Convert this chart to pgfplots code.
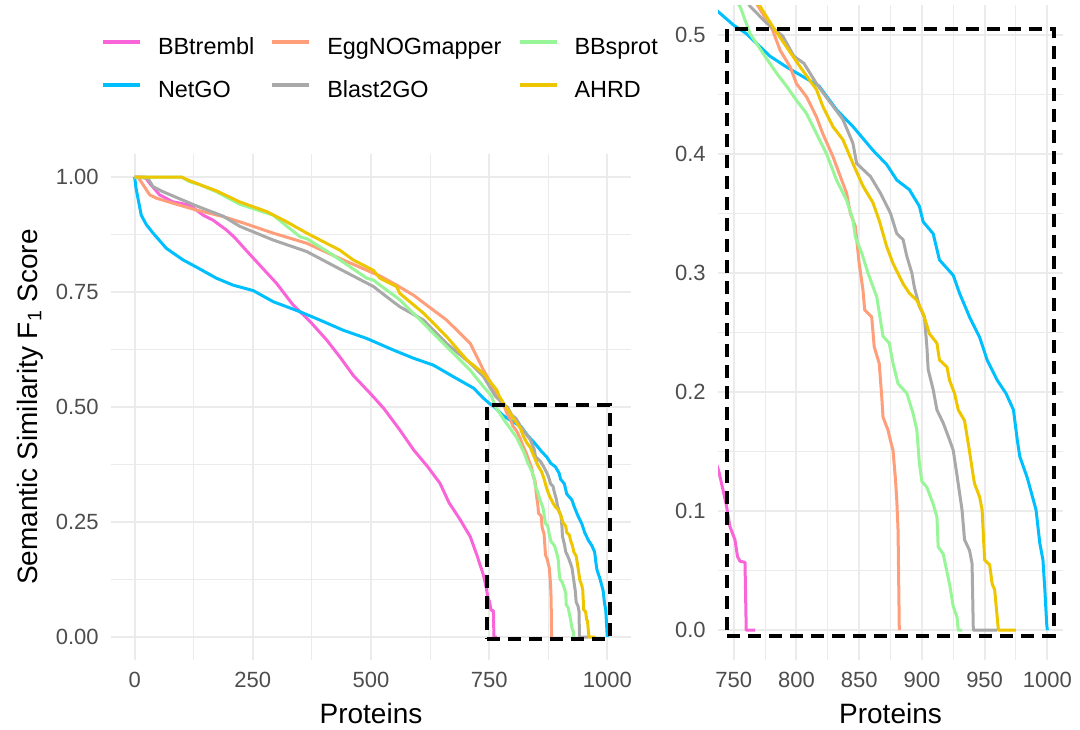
\documentclass[border=0pt]{standalone}
\usepackage{fontspec}
\setmainfont{Liberation Sans}
\usepackage{pgfplots}
\usepackage{pgfplotstable}
\pgfplotsset{compat=1.18}

\definecolor{cPink}{HTML}{F964D9}
\definecolor{cOrange}{HTML}{FF9E7A}
\definecolor{cGreen}{HTML}{98F598}
\definecolor{cBlue}{HTML}{00BFFF}
\definecolor{cGrey}{HTML}{A9A9A9}
\definecolor{cGold}{HTML}{EEC600}
\definecolor{tickgray}{HTML}{4D4D4D}
\definecolor{gridgray}{HTML}{EBEBEB}

\pgfplotstableread{
x y
0 1.000
22 1.000
32 0.986
53 0.961
81 0.946
116 0.939
145 0.917
166 0.906
194 0.885
212 0.868
232 0.845
265 0.808
300 0.769
335 0.722
371 0.686
406 0.646
434 0.609
463 0.568
498 0.530
527 0.497
561 0.450
590 0.407
620 0.370
646 0.334
665 0.292
688 0.256
710 0.218
724 0.178
738 0.134
744 0.106
747 0.087
751 0.076
753 0.062
755 0.058
759 0.057
760 0.000
767 0.000
}\tPink

\pgfplotstableread{
x y
0 1.000
3 0.975
7 0.954
14 0.917
25 0.896
39 0.878
67 0.845
102 0.820
138 0.800
173 0.780
208 0.765
251 0.753
293 0.729
350 0.707
392 0.689
441 0.667
491 0.649
547 0.624
590 0.606
632 0.591
674 0.566
717 0.541
737 0.520
750 0.508
760 0.501
771 0.490
779 0.482
792 0.473
805 0.465
818 0.457
832 0.437
845 0.423
861 0.403
872 0.391
880 0.378
890 0.370
898 0.356
901 0.343
909 0.333
914 0.311
925 0.298
930 0.283
938 0.263
946 0.246
952 0.227
960 0.210
967 0.199
973 0.185
976 0.160
978 0.146
984 0.128
991 0.101
994 0.073
996.5 0.059
998 0.034
999.5 0.005
1000 0.000
}\tBlue

\pgfplotstableread{
x y
0 1.000
7 1.000
18 0.983
32 0.961
46 0.954
81 0.943
131 0.928
187 0.914
230 0.900
293 0.878
364 0.856
434 0.823
505 0.791
519 0.785
554 0.765
590 0.743
660 0.689
710 0.638
738 0.580
766 0.530
781 0.504
787 0.487
795 0.473
800 0.459
808 0.448
816 0.431
821 0.417
829 0.398
835 0.381
840 0.367
843 0.350
847 0.339
850 0.308
853 0.286
854.4 0.269
860 0.263
862 0.238
866 0.224
868 0.196
869 0.179
873 0.168
875 0.159
877 0.151
879 0.126
880 0.109
881 0.084
882 0.000
}\tOrange

\pgfplotstableread{
x y
0 1.000
28 0.997
39 0.979
60 0.968
131 0.937
187 0.915
222 0.893
293 0.863
364 0.838
434 0.800
505 0.762
530 0.742
561 0.718
611 0.689
660 0.638
710 0.595
738 0.566
763 0.524
776 0.510
789 0.499
798 0.482
806 0.476
816 0.459
827 0.443
837 0.429
845 0.409
848 0.392
859 0.381
867 0.367
875 0.350
880 0.333
885 0.328
888 0.314
892 0.300
894 0.288
898 0.272
902 0.263
904 0.238
905 0.219
909 0.202
912 0.185
917 0.174
922 0.160
925 0.151
928 0.130
932 0.101
934 0.076
938 0.067
940 0.056
941 0.000
960 0.000
}\tGrey

\pgfplotstableread{
x y
0 1.000
99 1.000
116 0.990
138 0.983
173 0.968
222 0.941
293 0.917
350 0.870
364 0.866
420 0.830
434 0.820
491 0.780
505 0.776
519 0.765
561 0.733
611 0.682
660 0.631
710 0.580
738 0.544
755 0.524
763 0.501
773 0.485
784 0.468
792 0.457
800 0.445
808 0.434
816 0.417
824 0.400
832 0.378
840 0.361
845 0.345
847 0.330
852 0.317
857 0.300
864 0.280
869 0.247
874 0.241
877 0.224
881 0.207
888 0.199
893 0.182
896 0.168
898 0.140
900 0.125
904 0.120
909 0.106
912 0.095
913 0.070
917 0.064
922 0.039
925 0.020
928 0.011
929 0.000
932 0.000
}\tGreen

\pgfplotstableread{
x y
0 1.000
99 1.000
116 0.992
173 0.970
222 0.946
279 0.925
321 0.903
364 0.878
434 0.841
462 0.820
505 0.797
519 0.780
554 0.762
561 0.747
611 0.704
660 0.653
703 0.602
738 0.573
766 0.537
771 0.524
781 0.507
792 0.490
803 0.473
816 0.454
821 0.440
829 0.423
837 0.412
845 0.392
853 0.373
861 0.359
866 0.344
872 0.322
877 0.308
885 0.291
890 0.283
896 0.277
901 0.266
906 0.249
912 0.241
914 0.227
920 0.221
922 0.210
926 0.199
929 0.185
934 0.176
938 0.150
941 0.129
942 0.123
946 0.112
948 0.101
950 0.059
954 0.055
956 0.039
958 0.034
961 0.000
975 0.000
}\tGold

\pgfplotsset{
  base/.style={
    scale only axis,
    axis line style={draw=none},
    tick style={draw=none},
    major tick length=0pt, minor tick length=0pt,
    grid=both,
    major grid style={draw=gridgray, line width=1pt},
    minor grid style={draw=gridgray, line width=0.5pt},
    ticklabel style={font=\fontsize{11}{13}\selectfont, text=tickgray, inner sep=0pt},
    xticklabel style={yshift=-6pt},
    yticklabel style={xshift=-6pt},
    label style={font=\fontsize{14}{16}\selectfont, text=black},
    /pgf/number format/assume math mode=true,
    /pgf/number format/set thousands separator={},
  },
  ser/.style={line width=1.5pt, draw=#1, forget plot, line join=round, mark=none},
  rect/.style={black, line width=2pt, dash pattern=on 6.5pt off 4pt, forget plot, mark=none},
}

\begin{document}
\begin{tikzpicture}
\useasboundingbox (0,0) rectangle (540pt,364.5pt);

% ---------- left panel ----------
\begin{axis}[base,
  at={(55.5pt,34.5pt)}, anchor=south west,
  width=260pt, height=253pt,
  xmin=-50, xmax=1050, ymin=-0.05, ymax=1.05,
  xtick={0,250,500,750,1000}, ytick={0,0.25,0.5,0.75,1},
  minor x tick num=1, minor y tick num=1,
  yticklabel style={/pgf/number format/.cd, fixed, fixed zerofill, precision=2},
  xlabel={Proteins},
  ylabel={Semantic Similarity F\textsubscript{1} Score},
  xlabel style={at={(axis description cs:0.5,-0.105)}, anchor=center},
  ylabel style={at={(axis description cs:-0.156,0.5)}, anchor=center},
  legend columns=3,
  legend cell align=left,
  legend image code/.code={\draw[#1, line width=2pt] (0pt,3pt) -- (18.5pt,3pt);},
  legend style={at={(axis description cs:-0.0315,1.239)}, anchor=north west,
    draw=none, fill=none, font=\fontsize{11.7}{13}\selectfont,
    /tikz/every odd column/.append style={column sep=8pt},
    /tikz/every even column/.append style={column sep=8pt},
    row sep=10.5pt,
    nodes={inner sep=0pt, text height=8.5pt, text depth=2.5pt}},
]
\addlegendimage{cPink}\addlegendentry{BBtrembl}
\addlegendimage{cOrange}\addlegendentry{EggNOGmapper}
\addlegendimage{cGreen}\addlegendentry{BBsprot}
\addlegendimage{cBlue}\addlegendentry{NetGO}
\addlegendimage{cGrey}\addlegendentry{Blast2GO}
\addlegendimage{cGold}\addlegendentry{AHRD}
\addplot[ser=cPink] table {\tPink};
\addplot[ser=cBlue] table {\tBlue};
\addplot[ser=cOrange] table {\tOrange};
\addplot[ser=cGrey] table {\tGrey};
\addplot[ser=cGreen] table {\tGreen};
\addplot[ser=cGold] table {\tGold};
\addplot[rect] coordinates {(745,-0.005) (1005,-0.005) (1005,0.505) (745,0.505) (745,-0.005)};
\end{axis}

% ---------- right panel ----------
\begin{axis}[base,
  at={(359pt,34.5pt)}, anchor=south west,
  width=172.5pt, height=327.5pt,
  xmin=737.5, xmax=1012.5, ymin=-0.025, ymax=0.525,
  xtick={750,800,850,900,950,1000}, ytick={0,0.1,0.2,0.3,0.4,0.5},
  minor x tick num=1, minor y tick num=1,
  yticklabel style={/pgf/number format/.cd, fixed, fixed zerofill, precision=1},
  xlabel={Proteins},
  xlabel style={at={(axis description cs:0.5,-0.081)}, anchor=center},
]
\addplot[ser=cPink] table {\tPink};
\addplot[ser=cBlue] table {\tBlue};
\addplot[ser=cOrange] table {\tOrange};
\addplot[ser=cGrey] table {\tGrey};
\addplot[ser=cGreen] table {\tGreen};
\addplot[ser=cGold] table {\tGold};
\addplot[rect] coordinates {(745,-0.005) (1005,-0.005) (1005,0.505) (745,0.505) (745,-0.005)};
\end{axis}
\end{tikzpicture}
\end{document}
